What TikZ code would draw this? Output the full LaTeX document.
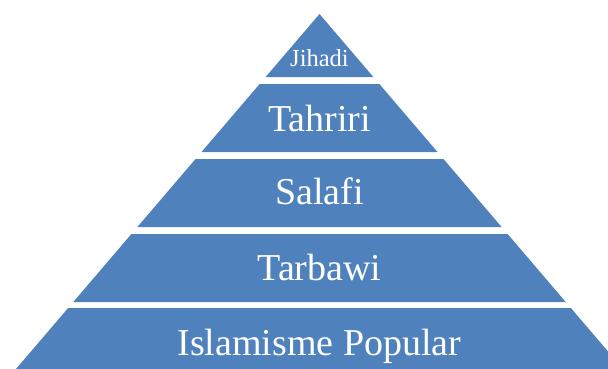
\documentclass[tikz,border=0pt]{standalone}
\usepackage{fontspec}
\setmainfont{Liberation Serif}
\definecolor{PyramidBlue}{RGB}{79,129,189}

\begin{document}
\begin{tikzpicture}[x=1pt, y=-1pt,
		layer/.style={fill=PyramidBlue, draw=none},
		layertext/.style={text=white, anchor=base, inner sep=0pt, font=\fontsize{38}{40}\selectfont},
		]
	\useasboundingbox (0,0) rectangle (608,368);
	\clip (0,0) rectangle (608,368);
	% top of the pyramid
	\pgfmathsetmacro\halfw{0.855*(77-14)}
	\fill[layer] (319.5,14) -- (319.5+\halfw,77) -- (319.5-\halfw,77) -- cycle;
	\node[layertext, font=\fontsize{24.5}{26}\selectfont] (jihadi) at (319.5,66) {Jihadi};
	% lower layers
	\foreach \name/\ytop/\ybot/\ybase/\txt in {%
		tahriri/84/152/131/Tahriri,
		salafi/159/227/204/Salafi,
		tarbawi/234/302/280/Tarbawi,
		populer/308/376/355/Islamisme Popular}
	{
		\pgfmathsetmacro\xtop{0.855*(\ytop-14)}
		\pgfmathsetmacro\xbot{0.855*(\ybot-14)}
		\fill[layer] (319.5-\xtop,\ytop) -- (319.5+\xtop,\ytop) -- (319.5+\xbot,\ybot) -- (319.5-\xbot,\ybot) -- cycle;
		\node[layertext] (\name) at (319.5,\ybase) {\txt};
	}
\end{tikzpicture}
\end{document}
